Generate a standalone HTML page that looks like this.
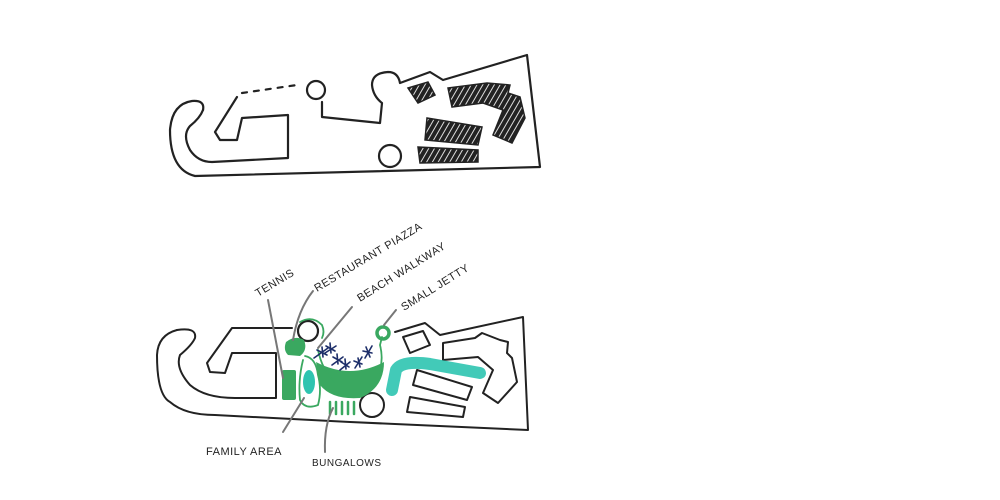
<!DOCTYPE html>
<html><head><meta charset="utf-8"><style>
html,body{margin:0;padding:0;background:#fff;}
svg{display:block}
text{font-family:"Liberation Sans",sans-serif;font-size:11px;fill:#222;letter-spacing:0.5px}
</style></head><body>
<svg width="1000" height="500" viewBox="0 0 1000 500" xmlns="http://www.w3.org/2000/svg">
<rect x="0" y="0" width="1000" height="500" fill="#fff"/>
<defs>
<pattern id="h" width="5" height="5" patternUnits="userSpaceOnUse" patternTransform="rotate(30)">
<rect width="5" height="5" fill="#222"/><rect width="1" height="5" fill="#ddd"/>
</pattern>
</defs>
<!-- TOP PLAN -->
<g fill="none" stroke="#222" stroke-width="2.2" stroke-linecap="round" stroke-linejoin="round">
<path d="M203,110 Q205,100 192,101 Q172,104 170,130 Q170,170 195,176 L540,167 L527,55 L443,80 L430,72 L400,83 Q398,72 388,72 Q372,73 372,85 Q373,96 382,103 L380,123 L322,117 L322,102"/>
<path d="M203,110 Q200,118 190,126 Q182,135 190,150 Q198,162 212,162 L288,158 L288,115 L242,118 L237,140 L220,140 L215,132 L237,97"/>
<path d="M242,93 L297,85" stroke-dasharray="5,7"/>
<circle cx="316" cy="90" r="9"/>
<circle cx="390" cy="156" r="11"/>
</g>
<g fill="url(#h)" stroke="#222" stroke-width="1.5">
<polygon points="408,88 428,82 435,95 418,103"/>
<polygon points="448,88 487,83 510,85 508,93 520,97 525,118 512,143 493,135 503,110 483,103 452,107"/>
<polygon points="427,118 482,127 478,145 425,140"/>
<polygon points="418,147 478,150 478,162 420,163"/>
</g>
<!-- BOTTOM PLAN -->
<g fill="none" stroke="#222" stroke-width="2" stroke-linecap="round" stroke-linejoin="round">
<path d="M177,330 Q158,335 157,355 Q157,395 170,402 Q185,415 215,415 L350,422 L528,430 L523,317 L440,335 L425,323 L395,332"/>
<path d="M177,330 Q197,327 195,338 Q192,345 180,355 Q175,368 190,385 Q205,398 235,398 L276,398 L276,353 L232,353 L225,373 L210,372 L207,363 L232,328 L292,328"/>
<circle cx="308" cy="331" r="10" stroke-width="2.2"/>
<circle cx="372" cy="405" r="12"/>
<polygon points="403,337 423,331 430,345 410,353"/>
<polygon points="443,343 443,360 478,357 493,370 483,393 498,403 517,382 512,358 507,353 508,342 500,340 482,333 475,338"/>
<polygon points="417,370 472,387 467,400 413,385"/>
<polygon points="410,397 465,407 463,417 407,412"/>
</g>
<path d="M392,390 L396,370 Q402,360 430,364 L480,373" fill="none" stroke="#2ec4b0" stroke-width="12" stroke-linecap="round" stroke-linejoin="round" opacity="0.9"/>
<ellipse cx="309" cy="382" rx="6" ry="12" fill="#2ec4b0"/>
<g fill="#3aa860" stroke="none">
<path d="M286,342 Q295,335 304,340 Q308,350 300,356 L288,355 Q283,350 286,342Z"/>
<rect x="282" y="370" width="14" height="30" rx="2"/>
<path d="M316,362 Q350,380 384,362 Q384,388 360,398 Q332,400 320,385Z"/>
</g>
<g fill="none" stroke="#3aa860" stroke-width="1.8" stroke-linecap="round">
<path d="M300,322 Q312,315 322,325 Q325,332 322,338"/>
<path d="M303,360 Q298,380 300,400 Q305,410 318,405 Q322,390 318,375 Q316,358 305,356"/>
<path d="M318,350 Q322,370 335,382 Q355,395 375,380 Q385,365 380,345 L382,337"/>
<circle cx="383" cy="333" r="6" stroke-width="3.5"/>
<path d="M330,402v12M336,402v12M342,402v12M348,402v12M354,402v12" stroke-width="2.5"/>
</g>
<g stroke="#1e2f6a" stroke-width="1.6" stroke-linecap="round">
<path d="M314,358 L328,348 M322,347 L323,357 M317,350 L327,355"/>
<path d="M325,353 L336,346 M330,343 L331,353 M326,346 L335,351"/>
<path d="M332,365 L343,357 M337,354 L338,364 M333,357 L342,362"/>
<path d="M340,370 L350,362 M345,359 L346,369 M341,362 L349,367"/>
<path d="M355,368 L362,357 M358,358 L360,367 M354,361 L362,364"/>
<path d="M365,358 L372,346 M366,347 L370,357 M363,351 L372,353"/>
</g>
<g stroke="#777" stroke-width="2" stroke-linecap="round" fill="none">
<path d="M268,300 L283,378"/>
<path d="M313,291 Q298,310 293,340"/>
<path d="M352,307 L318,348"/>
<path d="M396,310 L384,325"/>
<path d="M304,398 L283,432"/>
<path d="M333,408 Q324,425 325,452"/>
</g>
<text transform="translate(258,297) rotate(-31)">TENNIS</text>
<text transform="translate(317,292) rotate(-31)">RESTAURANT PIAZZA</text>
<text transform="translate(360,302) rotate(-32)">BEACH WALKWAY</text>
<text transform="translate(404,311) rotate(-32)">SMALL JETTY</text>
<text x="206" y="455">FAMILY AREA</text>
<text x="312" y="466" style="font-size:10px">BUNGALOWS</text>
</svg>
</body></html>
